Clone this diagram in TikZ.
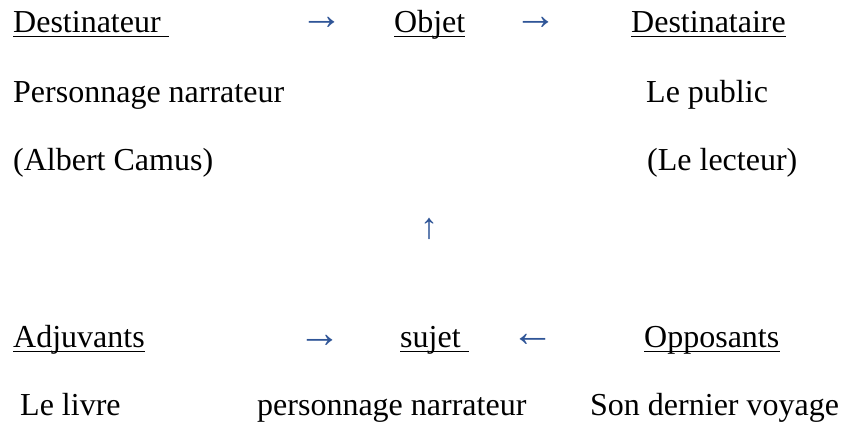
\documentclass[tikz,border=0pt]{standalone}
\usepackage{fontspec}
\setmainfont{Liberation Serif}
\definecolor{arrowblue}{RGB}{47,85,151}
\begin{document}
\begin{tikzpicture}[x=1pt,y=-1pt,
  txt/.style={anchor=base west,inner sep=0pt,font=\fontsize{32}{38}\selectfont},
  arr/.style={anchor=center,inner sep=0pt,text=arrowblue,font=\fontsize{43}{48}\selectfont},
  uparr/.style={anchor=center,inner sep=0pt,text=arrowblue,font=\fontsize{36}{40}\selectfont},
  uline/.style={line width=1.5pt}]
\useasboundingbox (0,0) rectangle (841,426);
% row 1
\node[txt] (d1) at (13,32) {Destinateur\hspace*{8pt}};
\node[txt] (obj) at (394,32) {Objet};
\node[txt] (dst) at (631,32) {Destinataire};
\node[arr] (a1) at (322,23) {→};
\node[arr] (a2) at (536,23) {→};
% rows 2-3
\node[txt] (p1) at (13,102) {Personnage narrateur};
\node[txt] (p2) at (646,102) {Le public};
\node[txt] (c1) at (13,170) {(Albert Camus)};
\node[txt] (c2) at (647,170) {(Le lecteur)};
% up arrow
\node[uparr] (up) at (429,229) {↑};
% row 4
\node[txt] (adj) at (13,347) {Adjuvants};
\node[txt] (suj) at (400,347) {sujet\hspace*{8pt}};
\node[txt] (opp) at (644,347) {Opposants};
\node[arr] (a3) at (320,341) {→};
\node[arr] (a4) at (533,340) {←};
% row 5
\node[txt] (l1) at (20,415) {Le livre};
\node[txt] (l2) at (257,415) {personnage narrateur};
\node[txt] (l3) at (590,415) {Son dernier voyage};
% underlines
\foreach \n in {d1,obj,dst,adj,suj,opp}
  \draw[uline] ([yshift=-4.5pt]\n.base west) -- ([yshift=-4.5pt]\n.base east);
\end{tikzpicture}
\end{document}
